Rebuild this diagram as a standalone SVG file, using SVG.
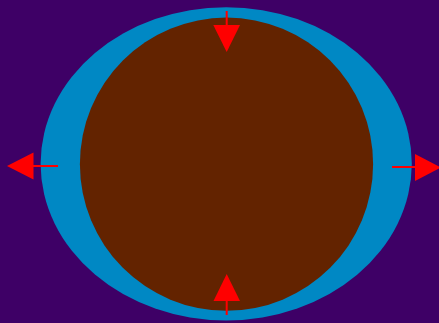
<svg xmlns="http://www.w3.org/2000/svg" width="439" height="323" viewBox="0 0 439 323">
<style>
.arr line{stroke:#ff0000;stroke-width:2}
.arr polygon{fill:#ff0000}
</style>
<rect width="439" height="323" fill="#3e0066"/>
<g id="outer"><ellipse cx="226.2" cy="163.8" rx="185.6" ry="156.6" fill="#0088c4"/></g>
<g id="inner"><circle cx="226.5" cy="164.2" r="146.6" fill="#632300"/></g>
<g id="connectors" class="arr">
<line x1="226.7" y1="11" x2="226.7" y2="26"/>
<polygon points="213.3,25 240,25 226.7,52"/>
<line x1="226.7" y1="315" x2="226.7" y2="300"/>
<polygon points="213.5,301 240,301 226.7,274"/>
<line x1="58" y1="166" x2="33" y2="166"/>
<polygon points="33.5,152.5 33.5,179.5 7,166"/>
<line x1="392" y1="167" x2="416" y2="167"/>
<polygon points="415,154 415,181 441,167.5"/>
</g>
</svg>
